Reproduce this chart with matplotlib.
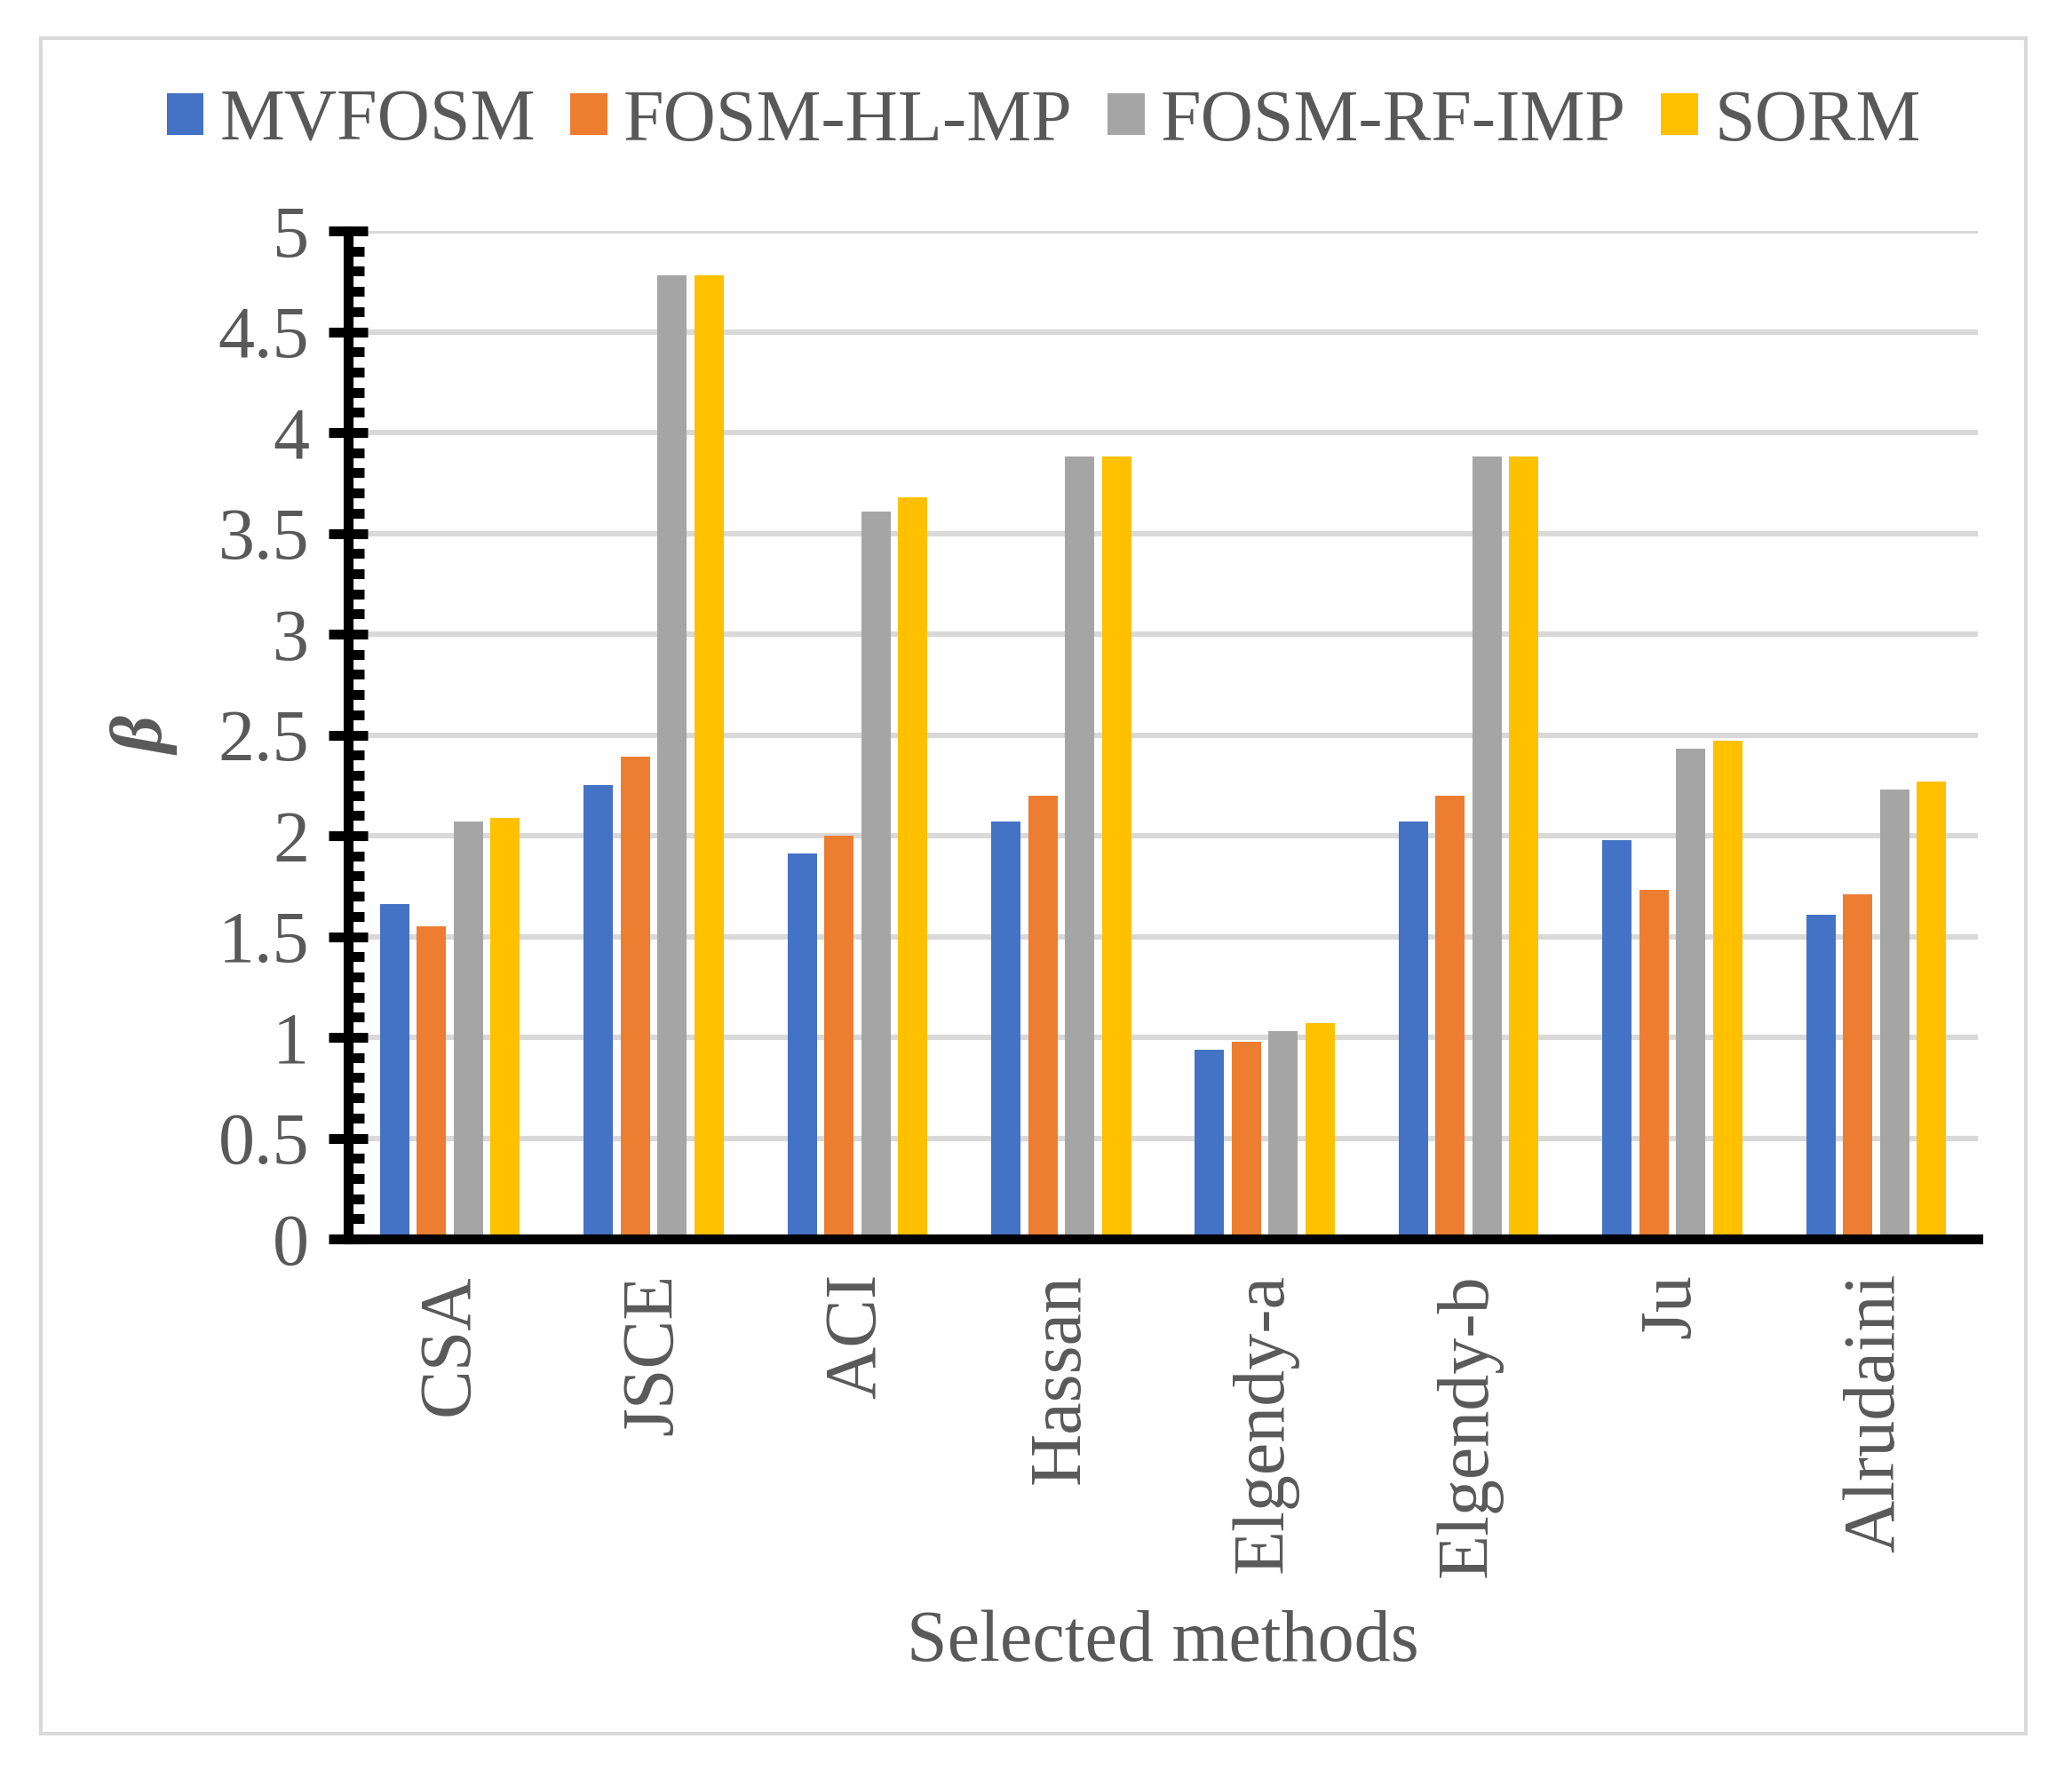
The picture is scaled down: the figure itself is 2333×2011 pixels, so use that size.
import matplotlib
matplotlib.use("Agg")
import matplotlib.pyplot as plt
import numpy as np
from matplotlib.patches import Patch, Rectangle
from matplotlib.ticker import MultipleLocator

plt.rcParams["font.family"] = ["Liberation Serif", "DejaVu Serif"]

# data
methods = ["CSA", "JSCE", "ACI", "Hassan", "Elgendy-a", "Elgendy-b", "Ju", "Alrudaini"]
mvfosm = [1.66, 2.25, 1.91, 2.07, 0.94, 2.07, 1.98, 1.61]
fosm_hl_mp = [1.55, 2.39, 2.00, 2.20, 0.98, 2.20, 1.73, 1.71]
fosm_rf_imp = [2.07, 4.78, 3.61, 3.88, 1.03, 3.88, 2.43, 2.23]
sorm = [2.09, 4.78, 3.68, 3.88, 1.07, 3.88, 2.47, 2.27]
series_names = ["MVFOSM", "FOSM-HL-MP", "FOSM-RF-IMP", "SORM"]
colors = ["#4472C4", "#ED7D31", "#A5A5A5", "#FFC000"]
yticks = [0, 0.5, 1, 1.5, 2, 2.5, 3, 3.5, 4, 4.5, 5]
ytick_labels = ["0", "0.5", "1", "1.5", "2", "2.5", "3", "3.5", "4", "4.5", "5"]

txt = "#595959"
fs = 29.5

fig = plt.figure(figsize=(11.665, 10.055), dpi=200)
# outer chart border
fig.patches.append(Rectangle((46 / 2333, 1 - 1952 / 2011), (2281 - 46) / 2333, (1952 - 43) / 2011,
                             transform=fig.transFigure, fill=False, edgecolor="#D9D9D9", linewidth=1.5))

ax = fig.add_axes([0.1680, 0.3063, 0.7866, 0.5644])

x = np.arange(len(methods))
pitch = 0.181
width = 0.144
all_series = [mvfosm, fosm_hl_mp, fosm_rf_imp, sorm]
for k, (vals, c) in enumerate(zip(all_series, colors)):
    ax.bar(x + (k - 1.5) * pitch, vals, width=width, color=c, zorder=2)

ax.set_xlim(-0.5, len(methods) - 0.5)
ax.set_ylim(0, 5)
ax.set_yticks(yticks)
ax.set_yticklabels(ytick_labels)
ax.yaxis.set_minor_locator(MultipleLocator(0.1))
ax.set_xticks(x)
ax.set_xticklabels(methods, rotation=90)

ax.yaxis.grid(True, color="#D9D9D9", linewidth=2.2, zorder=0)
ax.set_axisbelow(True)

for s in ["top", "right"]:
    ax.spines[s].set_visible(False)
for s in ["left", "bottom"]:
    ax.spines[s].set_linewidth(4)
    ax.spines[s].set_color("black")

ax.tick_params(axis="y", which="major", direction="inout", length=15.5, width=4,
               color="black", labelsize=fs, labelcolor=txt, pad=8)
ax.tick_params(axis="y", which="minor", direction="in", length=6.5, width=4, color="black")
ax.tick_params(axis="x", length=0, labelsize=fs, labelcolor=txt, pad=14)

fig.text(1309 / 2333, 1 - 1870 / 2011, "Selected methods", ha="center", va="baseline",
         fontsize=fs, color=txt)
fig.text(165 / 2333, 0.588, "β", rotation=90, ha="center", va="center",
         fontsize=fs, color=txt, fontweight="bold", fontstyle="italic")

handles = [Patch(facecolor=c, edgecolor="none") for c in colors]
fig.legend(handles, series_names, loc="center", bbox_to_anchor=(1175 / 2333, 1 - 138 / 2011),
           ncol=4, frameon=False, fontsize=fs, labelcolor=txt,
           handlelength=0.51, handleheight=0.5, handletextpad=0.22, columnspacing=0.48,
           borderpad=0, borderaxespad=0)

fig.savefig("out.png", dpi=200)
